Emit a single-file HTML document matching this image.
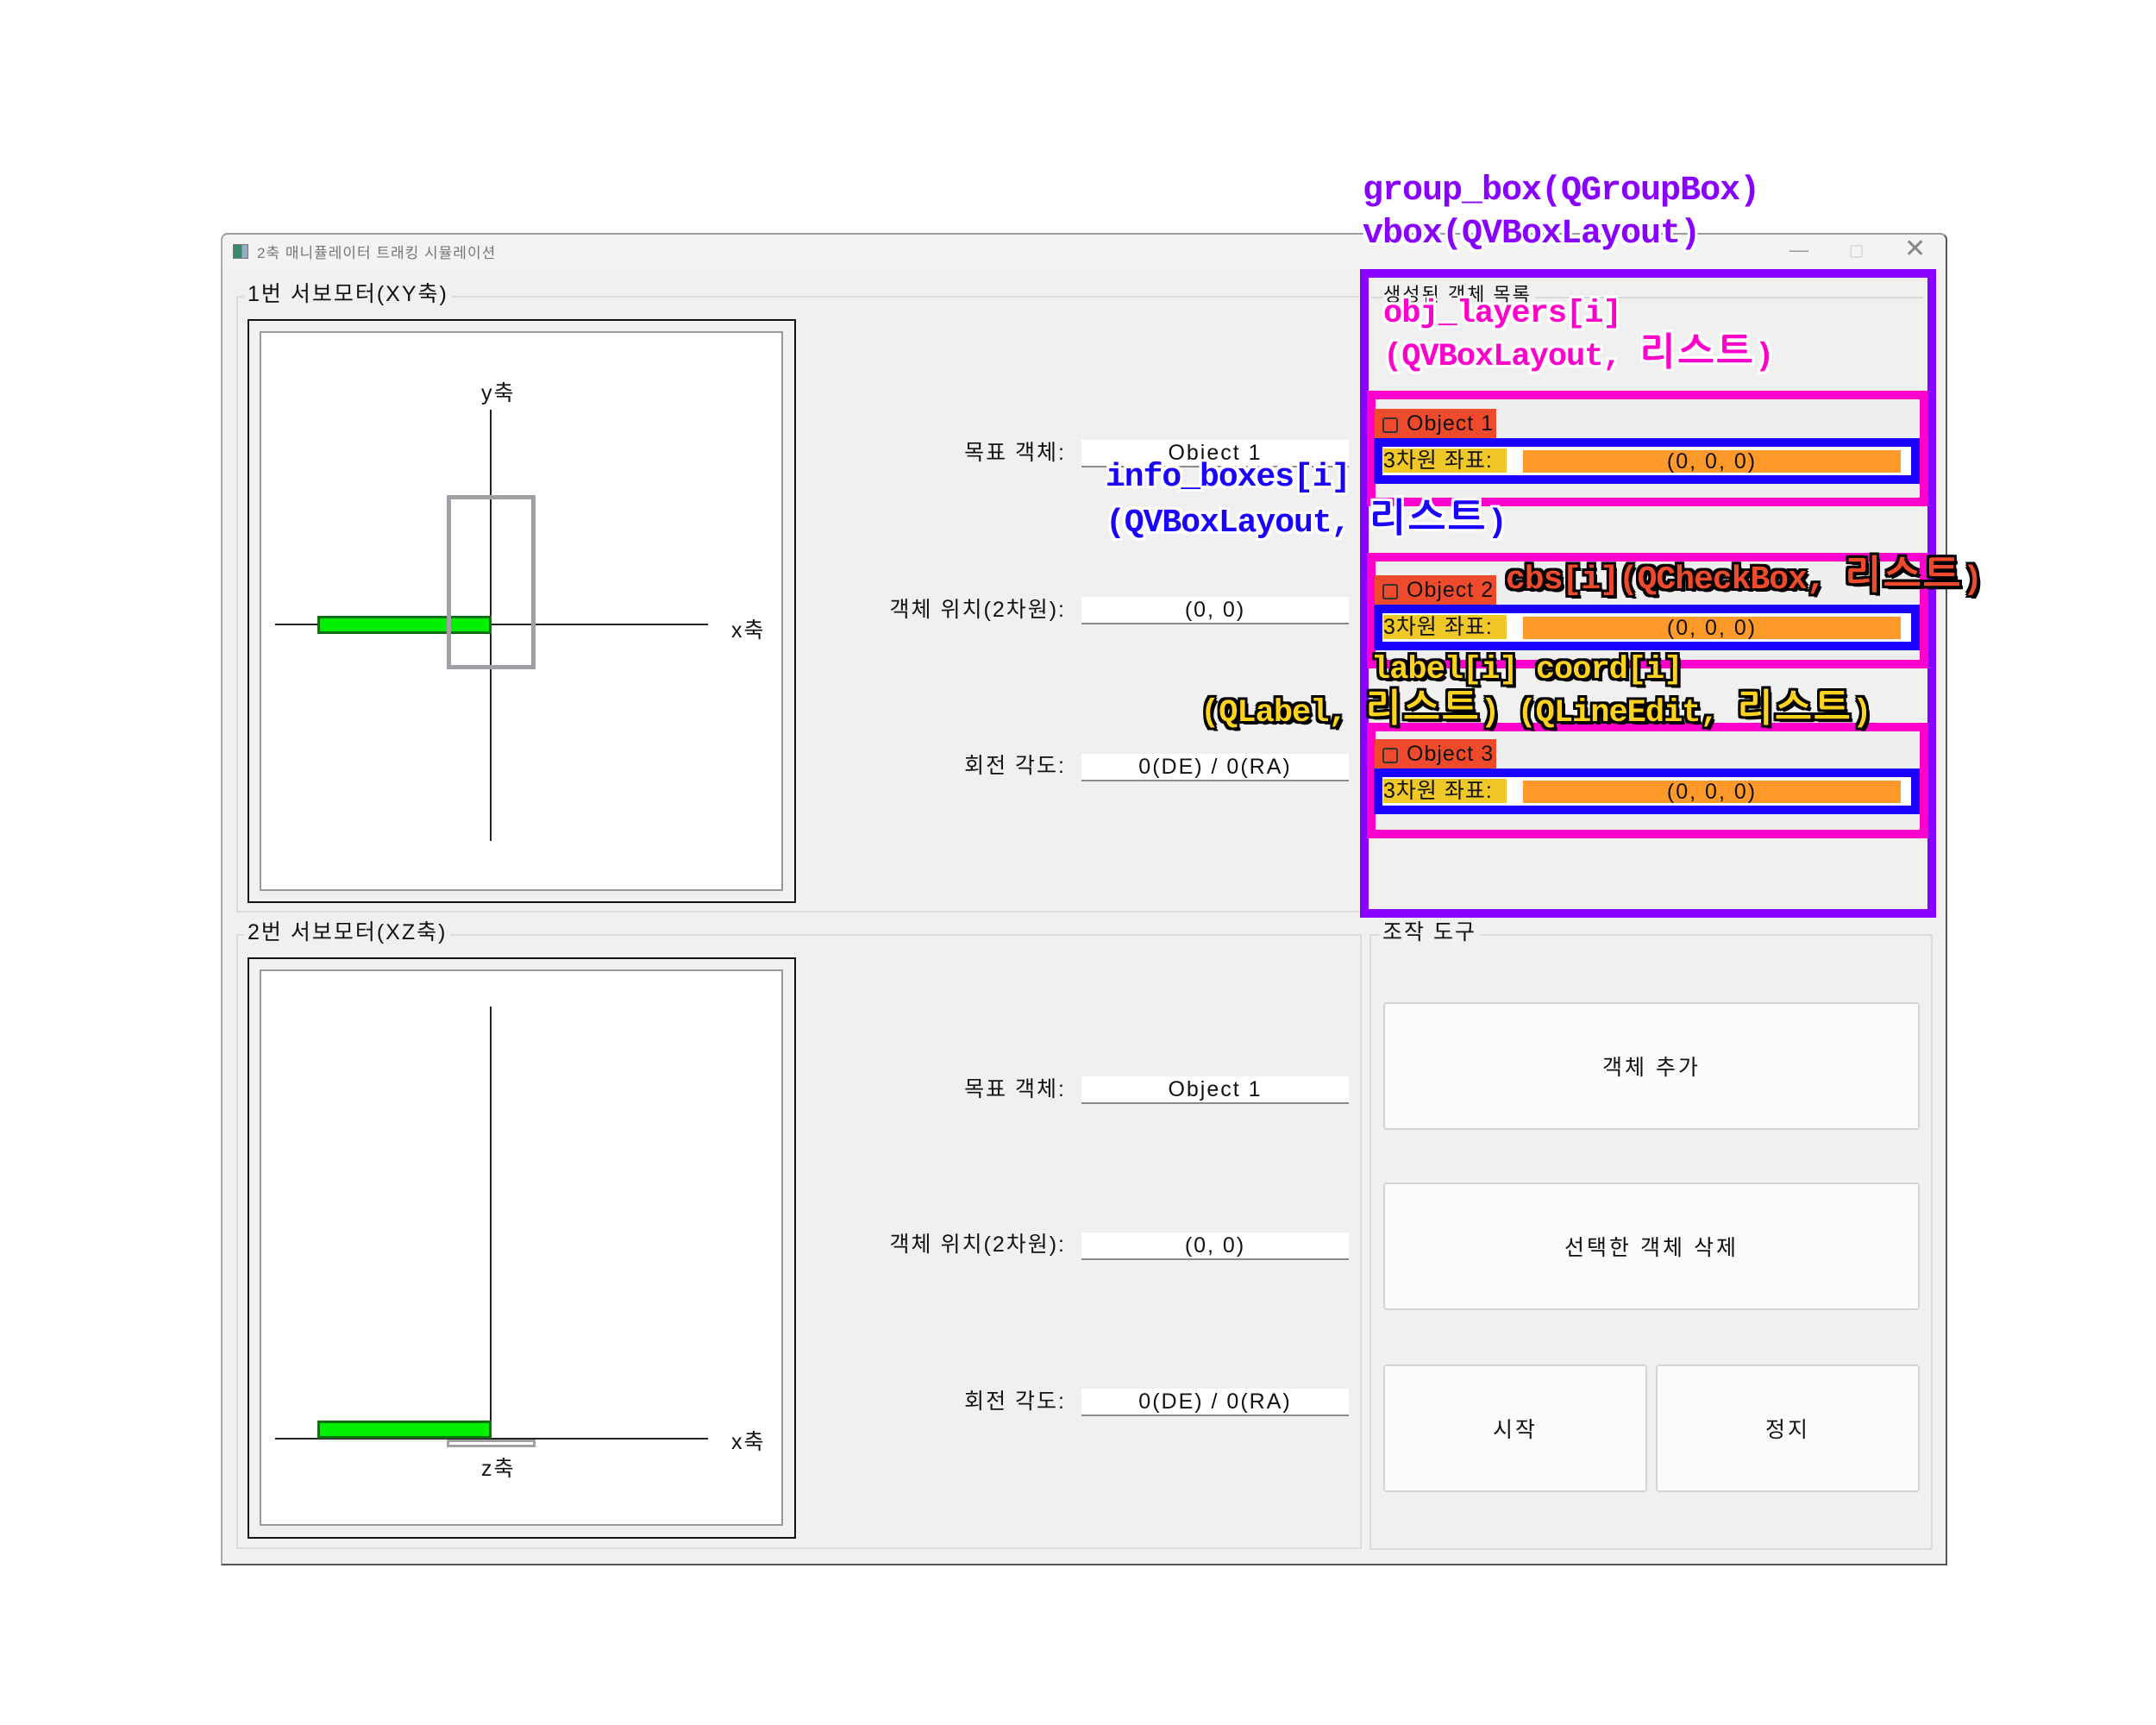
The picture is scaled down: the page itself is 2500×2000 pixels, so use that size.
<!DOCTYPE html>
<html><head><meta charset="utf-8"><style>
*{margin:0;padding:0;box-sizing:border-box}
body{width:2500px;height:2000px;background:#fff;position:relative;overflow:hidden;font-family:"Liberation Sans","Noto Sans CJK KR",sans-serif;color:#111}
.a{position:absolute}
.t{position:absolute;white-space:nowrap;font-size:25px;line-height:30px;letter-spacing:2px}
.fld{position:absolute;background:#fff;border-bottom:2px solid #8a8a8a;font-size:25px;line-height:30px;text-align:center;letter-spacing:2px}
.btn{position:absolute;background:#fbfbfb;border:2px solid #d4d4d4;border-radius:4px;font-size:25px;letter-spacing:3px;display:flex;align-items:center;justify-content:center}
.grp{position:absolute;border:2px solid #dcdcdc}
.gl{position:absolute;background:#f0f0f0;padding:0 4px;font-size:25px;line-height:30px;white-space:nowrap;letter-spacing:2px}
.pix{position:absolute;white-space:nowrap;font-family:"Liberation Mono","NanumGothic",monospace;font-weight:bold;letter-spacing:-1px}
.k{font-size:1.2em;letter-spacing:3px;line-height:1}
.wo{text-shadow:3px 0 #fff,-3px 0 #fff,0 3px #fff,0 -3px #fff,3px 3px #fff,-3px -3px #fff,3px -3px #fff,-3px 3px #fff}
.bo{text-shadow:3px 0 #000,-3px 0 #000,0 3px #000,0 -3px #000,3px 3px #000,-3px -3px #000,3px -3px #000,-3px 3px #000,4px 4px #000}
</style></head><body>
<!-- window -->
<div class="a" style="left:256px;top:270px;width:2002px;height:1545px;background:#f0f0f0;border:2px solid #555;border-top-color:#999;border-left-color:#aaa;border-radius:8px 8px 0 0"></div>
<div class="a" style="left:258px;top:272px;width:1998px;height:40px;background:#f3f3f3;border-radius:8px 8px 0 0"></div>
<div class="a" style="left:270px;top:283px;width:18px;height:17px;background:linear-gradient(90deg,#3a8a70 60%,#9ab 60%);border:1px solid #777"></div>
<div class="t" style="left:298px;top:279px;font-size:17px;color:#777;letter-spacing:1px">2축 매니퓰레이터 트래킹 시뮬레이션</div>
<div class="t" style="left:2075px;top:275px;font-size:22px;color:#999">—</div>
<div class="a" style="left:2145px;top:284px;width:15px;height:15px;border:2px solid #ddd;border-radius:2px"></div>
<div class="t" style="left:2208px;top:274px;font-size:30px;color:#888">✕</div>

<!-- group 1 -->
<div class="grp" style="left:274px;top:343px;width:1305px;height:715px"></div>
<div class="gl" style="left:283px;top:326px">1번 서보모터(XY축)</div>
<div class="a" style="left:287px;top:370px;width:636px;height:677px;border:2px solid #111"></div>
<div class="a" style="left:301px;top:384px;width:607px;height:649px;border:2px solid #999;background:#fff"></div>
<div class="a" style="left:568px;top:475px;width:2px;height:500px;background:#222"></div>
<div class="a" style="left:319px;top:723px;width:502px;height:2px;background:#222"></div>
<div class="a" style="left:368px;top:714px;width:202px;height:21px;background:#00f000;border:3px solid #107010"></div>
<div class="a" style="left:518px;top:574px;width:103px;height:202px;border:5px solid #a0a0a6"></div>
<div class="t" style="left:558px;top:441px">y축</div>
<div class="t" style="left:848px;top:716px">x축</div>
<div class="t" style="left:1060px;top:510px;width:176px;text-align:right">목표 객체:</div>
<div class="fld" style="left:1254px;top:510px;width:310px;height:32px">Object 1</div>
<div class="t" style="left:980px;top:692px;width:256px;text-align:right">객체 위치(2차원):</div>
<div class="fld" style="left:1254px;top:692px;width:310px;height:32px">(0, 0)</div>
<div class="t" style="left:1060px;top:873px;width:176px;text-align:right">회전 각도:</div>
<div class="fld" style="left:1254px;top:874px;width:310px;height:32px">0(DE) / 0(RA)</div>

<!-- group 2 -->
<div class="grp" style="left:274px;top:1083px;width:1305px;height:713px"></div>
<div class="gl" style="left:283px;top:1066px">2번 서보모터(XZ축)</div>
<div class="a" style="left:287px;top:1110px;width:636px;height:674px;border:2px solid #111"></div>
<div class="a" style="left:301px;top:1124px;width:607px;height:645px;border:2px solid #999;background:#fff"></div>
<div class="a" style="left:568px;top:1167px;width:2px;height:502px;background:#222"></div>
<div class="a" style="left:319px;top:1667px;width:502px;height:2px;background:#222"></div>
<div class="a" style="left:368px;top:1647px;width:202px;height:21px;background:#00f000;border:3px solid #107010"></div>
<div class="a" style="left:518px;top:1669px;width:103px;height:9px;border:3px solid #a0a0a6"></div>
<div class="t" style="left:558px;top:1688px">z축</div>
<div class="t" style="left:848px;top:1657px">x축</div>
<div class="t" style="left:1060px;top:1248px;width:176px;text-align:right">목표 객체:</div>
<div class="fld" style="left:1254px;top:1248px;width:310px;height:32px">Object 1</div>
<div class="t" style="left:980px;top:1428px;width:256px;text-align:right">객체 위치(2차원):</div>
<div class="fld" style="left:1254px;top:1429px;width:310px;height:32px">(0, 0)</div>
<div class="t" style="left:1060px;top:1610px;width:176px;text-align:right">회전 각도:</div>
<div class="fld" style="left:1254px;top:1610px;width:310px;height:32px">0(DE) / 0(RA)</div>

<!-- control group -->
<div class="grp" style="left:1588px;top:1083px;width:653px;height:714px"></div>
<div class="gl" style="left:1599px;top:1066px">조작 도구</div>
<div class="btn" style="left:1604px;top:1162px;width:622px;height:148px">객체 추가</div>
<div class="btn" style="left:1604px;top:1371px;width:622px;height:148px">선택한 객체 삭제</div>
<div class="btn" style="left:1604px;top:1582px;width:306px;height:148px">시작</div>
<div class="btn" style="left:1920px;top:1582px;width:306px;height:148px">정지</div>

<!-- object list group -->
<div class="a" style="left:1577px;top:312px;width:668px;height:752px;border:10px solid #8800ff;background:#f0f0f0"></div>
<div class="a" style="left:1590px;top:344px;width:640px;height:2px;background:#d8d8d8"></div>
<div class="t" style="left:1604px;top:327px;font-size:22px;background:#f0f0f0;padding-right:4px">생성된 객체 목록</div>

<!-- 3 layers -->
<div class="a" style="left:1585px;top:453px;width:651px;height:134px;border:10px solid #ff00cc;background:#efefef"></div>
<div class="a" style="left:1594px;top:474px;width:141px;height:34px;background:#f04a2c"></div>
<div class="a" style="left:1603px;top:484px;width:18px;height:18px;border:2px solid #333;border-radius:3px"></div>
<div class="t" style="left:1631px;top:476px;font-size:25px;letter-spacing:1px">Object 1</div>
<div class="a" style="left:1593px;top:508px;width:633px;height:53px;border:10px solid #1a00ff;background:#fff"></div>
<div class="t" style="left:1604px;top:520px;width:143px;height:28px;background:#f0c828;line-height:28px;letter-spacing:1px">3차원 좌표:</div>
<div class="t" style="left:1766px;top:522px;width:438px;height:26px;background:#ff9a2a;text-align:center;line-height:26px">(0, 0, 0)</div>

<div class="a" style="left:1585px;top:641px;width:651px;height:134px;border:10px solid #ff00cc;background:#efefef"></div>
<div class="a" style="left:1594px;top:667px;width:141px;height:34px;background:#f04a2c"></div>
<div class="a" style="left:1603px;top:677px;width:18px;height:18px;border:2px solid #333;border-radius:3px"></div>
<div class="t" style="left:1631px;top:669px;font-size:25px;letter-spacing:1px">Object 2</div>
<div class="a" style="left:1593px;top:701px;width:633px;height:53px;border:10px solid #1a00ff;background:#fff"></div>
<div class="t" style="left:1604px;top:713px;width:143px;height:28px;background:#f0c828;line-height:28px;letter-spacing:1px">3차원 좌표:</div>
<div class="t" style="left:1766px;top:715px;width:438px;height:26px;background:#ff9a2a;text-align:center;line-height:26px">(0, 0, 0)</div>

<div class="a" style="left:1585px;top:838px;width:651px;height:134px;border:10px solid #ff00cc;background:#efefef"></div>
<div class="a" style="left:1594px;top:857px;width:141px;height:34px;background:#f04a2c"></div>
<div class="a" style="left:1603px;top:867px;width:18px;height:18px;border:2px solid #333;border-radius:3px"></div>
<div class="t" style="left:1631px;top:859px;font-size:25px;letter-spacing:1px">Object 3</div>
<div class="a" style="left:1593px;top:891px;width:633px;height:53px;border:10px solid #1a00ff;background:#fff"></div>
<div class="t" style="left:1604px;top:903px;width:143px;height:28px;background:#f0c828;line-height:28px;letter-spacing:1px">3차원 좌표:</div>
<div class="t" style="left:1766px;top:905px;width:438px;height:26px;background:#ff9a2a;text-align:center;line-height:26px">(0, 0, 0)</div>

<!-- annotations -->
<div class="pix wo" style="left:1580px;top:200px;font-size:40px;line-height:44px;color:#8800ff">group_box(QGroupBox)</div>
<div class="pix wo" style="left:1580px;top:250px;font-size:40px;line-height:44px;color:#8800ff">vbox(QVBoxLayout)</div>
<div class="pix wo" style="left:1604px;top:342px;font-size:37px;line-height:44px;color:#ff00cc">obj_layers[i]</div>
<div class="pix wo" style="left:1604px;top:390px;font-size:37px;line-height:44px;color:#ff00cc">(QVBoxLayout, <span class="k">리스트</span>)</div>
<div class="pix wo" style="left:1282px;top:532px;font-size:38px;line-height:44px;color:#1a00ff">info_boxes[i]</div>
<div class="pix wo" style="left:1282px;top:582px;font-size:38px;line-height:44px;color:#1a00ff">(QVBoxLayout, <span class="k">리스트</span>)</div>
<div class="pix bo" style="left:1746px;top:648px;font-size:38px;line-height:44px;color:#f04a2c">cbs[i](QCheckBox, <span class="k">리스트</span>)</div>
<div class="pix bo" style="left:1590px;top:755px;font-size:37px;line-height:44px;color:#ffd21e">label[i] coord[i]</div>
<div class="pix bo" style="left:1392px;top:803px;font-size:37px;line-height:44px;color:#ffd21e">(QLabel, <span class="k">리스트</span>) (QLineEdit, <span class="k">리스트</span>)</div>
</body></html>
